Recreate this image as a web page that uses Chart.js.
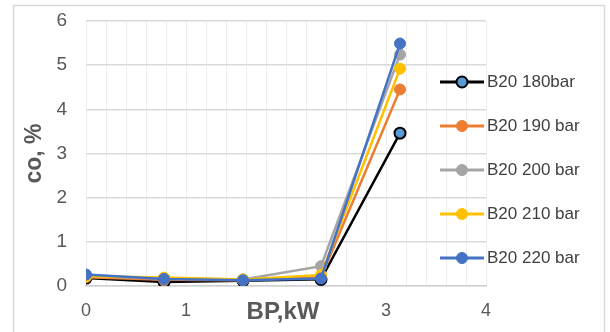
<!DOCTYPE html>
<html>
<head>
<meta charset="utf-8">
<script src="https://cdn.jsdelivr.net/npm/chart.js@4"></script>
<style>
  html, body { margin: 0; padding: 0; background: #fff; }
  #wrap { width: 610px; height: 332px; position: relative; }
</style>
</head>
<body>
<div id="wrap"><canvas id="coChart" width="610" height="332"></canvas></div>
<script>
// Dados
const bpKw = [0, 0.78, 1.57, 2.35, 3.14];
const seriesNames = ['B20 180bar', 'B20 190 bar', 'B20 200 bar', 'B20 210 bar', 'B20 220 bar'];
const co180 = [0.18, 0.09, 0.12, 0.15, 3.46];
const co190 = [0.20, 0.14, 0.13, 0.20, 4.45];
const co200 = [0.22, 0.17, 0.15, 0.45, 5.24];
const co210 = [0.22, 0.19, 0.15, 0.25, 4.92];
const co220 = [0.26, 0.16, 0.13, 0.17, 5.49];
const yTicks = [0, 1, 2, 3, 4, 5, 6];
const xTicks = [0, 1, 2, 3, 4];

const allValues = [co180, co190, co200, co210, co220];
const lineColors = ['#000000', '#ed7d31', '#a5a5a5', '#ffc000', '#4472c4'];
const markerFill = ['#5b9bd5', '#ed7d31', '#a5a5a5', '#ffc000', '#4472c4'];

const datasets = allValues.map((vals, i) => ({
    label: seriesNames[i],
    data: vals.map((v, k) => ({ x: bpKw[k], y: v })),
    borderColor: lineColors[i],
    backgroundColor: markerFill[i],
    pointBackgroundColor: markerFill[i],
    pointBorderColor: lineColors[i],
    pointBorderWidth: i === 0 ? 2 : 1,
    pointRadius: 5.5,
    borderWidth: 2.5,
    tension: 0,
    order: 4 - i
}));

// Legenda desenhada à direita
const legendPlugin = {
    id: 'sideLegend',
    afterDraw(chart) {
        const ctx = chart.ctx;
        const startY = 82;
        const gap = 44;
        ctx.save();
        datasets.forEach((ds, i) => {
            const y = startY + i * gap;
            ctx.strokeStyle = ds.borderColor;
            ctx.lineWidth = 3;
            ctx.beginPath();
            ctx.moveTo(440, y);
            ctx.lineTo(484, y);
            ctx.stroke();
            ctx.beginPath();
            ctx.arc(462, y, 5.5, 0, Math.PI * 2);
            ctx.fillStyle = ds.pointBackgroundColor;
            ctx.fill();
            ctx.lineWidth = i === 0 ? 2 : 1;
            ctx.stroke();
            ctx.fillStyle = '#404040';
            ctx.font = '17px "Liberation Sans"';
            ctx.textBaseline = 'middle';
            ctx.textAlign = 'left';
            ctx.fillText(ds.label, 487, y);
        });
        // título do eixo x, na mesma linha dos rótulos
        ctx.fillStyle = '#595959';
        ctx.font = 'bold 24px "Liberation Sans"';
        ctx.textAlign = 'center';
        ctx.textBaseline = 'middle';
        ctx.fillText('BP,kW', 283, 312);
        ctx.restore();
    }
};

const borderPlugin = {
    id: 'outerBorder',
    beforeDraw(chart) {
        const ctx = chart.ctx;
        ctx.save();
        ctx.fillStyle = '#ffffff';
        ctx.fillRect(0, 0, chart.width, chart.height);
        ctx.strokeStyle = '#d9d9d9';
        ctx.lineWidth = 1.5;
        ctx.strokeRect(13.5, 5.5, 591, 340);
        ctx.restore();
    }
};

const ctx = document.getElementById('coChart').getContext('2d');
const coChart = new Chart(ctx, {
    type: 'line',
    data: { datasets: datasets },
    options: {
        responsive: false,
        animation: false,
        layout: { padding: { left: 13, right: 124, top: 21, bottom: 0 } },
        plugins: {
            legend: { display: false },
            tooltip: { enabled: false }
        },
        scales: {
            x: {
                type: 'linear',
                min: 0,
                max: 4,
                afterFit(scale) {
                    scale.height = 46;
                    scale.paddingLeft = 0;
                    scale.paddingRight = 0;
                },
                afterBuildTicks(scale) {
                    const t = [];
                    for (let k = 0; k <= 20; k++) t.push({ value: k / 5 });
                    scale.ticks = t;
                },
                ticks: {
                    autoSkip: false,
                    maxRotation: 0,
                    padding: 14,
                    color: '#595959',
                    font: { family: 'Liberation Sans', size: 18 },
                    callback: (v) => {
                        const r = Math.round(v);
                        if (Math.abs(v - r) > 1e-6) return '';
                        if (!xTicks.includes(r) || r === 2) return '';
                        return String(r);
                    }
                },
                grid: { color: '#eeeeee', lineWidth: 1, drawTicks: false },
                border: { color: '#d0d0d0', width: 1.5 }
            },
            y: {
                min: 0,
                max: 6,
                afterFit(scale) {
                    scale.width = 73;
                    scale.paddingTop = 0;
                    scale.paddingBottom = 0;
                },
                afterBuildTicks(scale) {
                    scale.ticks = yTicks.map(v => ({ value: v }));
                },
                ticks: {
                    padding: 19,
                    color: '#595959',
                    font: { family: 'Liberation Sans', size: 19 }
                },
                grid: { color: '#d9d9d9', lineWidth: 1.5, drawTicks: false },
                border: { display: false },
                title: {
                    display: true,
                    text: 'co, %',
                    color: '#595959',
                    font: { family: 'Liberation Sans', size: 23, weight: 'bold' },
                    padding: { top: 8, bottom: 0 }
                }
            }
        }
    },
    plugins: [borderPlugin, legendPlugin]
});
</script>
</body>
</html>
